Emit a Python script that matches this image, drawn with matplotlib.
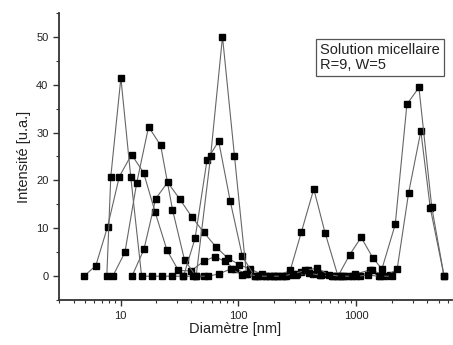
import matplotlib
matplotlib.use("Agg")
import matplotlib.pyplot as plt
from matplotlib.ticker import LogLocator, NullFormatter, MultipleLocator, FixedLocator

plt.rcParams['font.family'] = ['Liberation Sans', 'DejaVu Sans']

# size distributions (diameter in nm, intensity in a.u.)
xa = [4.9, 6.17, 7.76, 9.77, 12.4, 15.7, 19.7, 24.8, 31.0, 39.5, 50.7, 63.0, 76.7, 93.0, 119, 155, 195, 245, 309, 389, 490, 617, 777, 977, 1300, 1550, 1950]
ya = [0, 2.2, 10.3, 20.8, 25.4, 21.6, 13.3, 5.4, 1.2, 1.1, 3.1, 4.1, 3.1, 1.5, 0.5, 0, 0, 0, 0.3, 1.3, 0.3, 0, 0, 0.4, 1.3, 0, 0.2]

xb = [7.65, 8.27, 10.07, 12.2, 15.1, 18.4, 22.7, 27.6, 34.2, 41.5, 51.0]
yb = [0, 20.8, 41.4, 20.8, 0, 0, 0, 0, 0, 0, 0]

xc = [8.6, 10.9, 13.7, 17.3, 21.9, 27.6, 34.9, 43.8, 55.6, 68.5, 86, 108, 137, 172, 216, 272, 342, 430, 533, 680, 860, 1080, 1360, 1740, 2220, 2780, 3530, 4240, 5560]
yc = [0, 5.0, 19.4, 31.2, 27.3, 13.9, 3.4, 0, 0, 0.5, 1.5, 0.3, 0, 0, 0, 0.2, 0.8, 0.5, 0.4, 0, 0, 0, 1.3, 0, 1.4, 17.4, 30.3, 14.3, 0]

xd = [12.5, 15.8, 19.9, 25.1, 31.8, 40.2, 50.7, 64.6, 81.0, 102, 126, 158, 200, 251, 316, 398, 501, 631, 794, 1000, 1259, 1585, 1995]
yd = [0, 5.6, 16.2, 19.6, 16.1, 12.4, 9.2, 6.1, 3.8, 2.4, 1.5, 0.4, 0, 0, 0.4, 0.6, 0.2, 0, 0, 0, 0.2, 0, 0]

xe = [34.2, 42.9, 54.2, 68.0, 85.2, 108, 137, 172, 213, 275, 342, 436, 543, 700, 880, 1100, 1385, 1650, 2140, 2690, 3400, 4370, 5560]
ye = [0, 7.9, 24.3, 28.2, 15.7, 4.2, 0, 0, 0, 1.2, 9.2, 18.2, 9.1, 0, 4.5, 8.1, 3.8, 1.5, 10.8, 35.9, 39.4, 14.4, 0]

xf = [43.8, 58.1, 73.3, 92.6, 117, 147, 185, 233, 293, 369, 467, 585, 737, 928]
yf = [0, 25.0, 50.0, 25.1, 0.5, 0, 0, 0, 0.5, 1.2, 1.7, 0.3, 0, 0]

series = [(xa, ya), (xb, yb), (xc, yc), (xd, yd), (xe, ye), (xf, yf)]

fig = plt.figure(figsize=(4.53, 3.45), dpi=100)
ax = fig.add_axes([0.130, 0.130, 0.868, 0.833])

for x, y in series:
    ax.plot(x, y, color='#666666', lw=0.8, marker='s', ms=4.6,
            mfc='black', mec='black', zorder=3)

ax.set_xscale('log')
ax.set_xlim(3, 6500)
ax.set_ylim(-5, 55)

ax.xaxis.set_major_locator(FixedLocator([10, 100, 1000]))
ax.xaxis.set_major_formatter(matplotlib.ticker.FixedFormatter(['10', '100', '1000']))
ax.xaxis.set_minor_locator(LogLocator(base=10, subs=range(2, 10), numticks=20))
ax.xaxis.set_minor_formatter(NullFormatter())
ax.yaxis.set_major_locator(MultipleLocator(10))
ax.yaxis.set_minor_locator(MultipleLocator(5))
ax.set_yticks([0, 10, 20, 30, 40, 50])

for s in ['top', 'right']:
    ax.spines[s].set_visible(False)
for s in ['left', 'bottom']:
    ax.spines[s].set_color('#333333')
    ax.spines[s].set_linewidth(1.3)

ax.tick_params(which='major', direction='out', length=4, width=1, color='#333333',
               labelsize=8, labelcolor='#222222')
ax.tick_params(which='minor', direction='out', length=2.5, width=0.8, color='#333333')

ax.set_xlabel('Diamètre [nm]', fontsize=10.5, color='#222222', labelpad=3)
ax.xaxis.set_label_coords(0.448, -0.075)
ax.set_ylabel('Intensité [u.a.]', fontsize=10.5, color='#222222', labelpad=4)

fig.text(0.707, 0.875, 'Solution micellaire\nR=9, W=5',
         ha='left', va='top', fontsize=10.5, color='#222222', linespacing=1.05,
         bbox=dict(boxstyle='square,pad=0.3', fc='white', ec='#555555', lw=0.9))

fig.savefig('out.png', dpi=100)
